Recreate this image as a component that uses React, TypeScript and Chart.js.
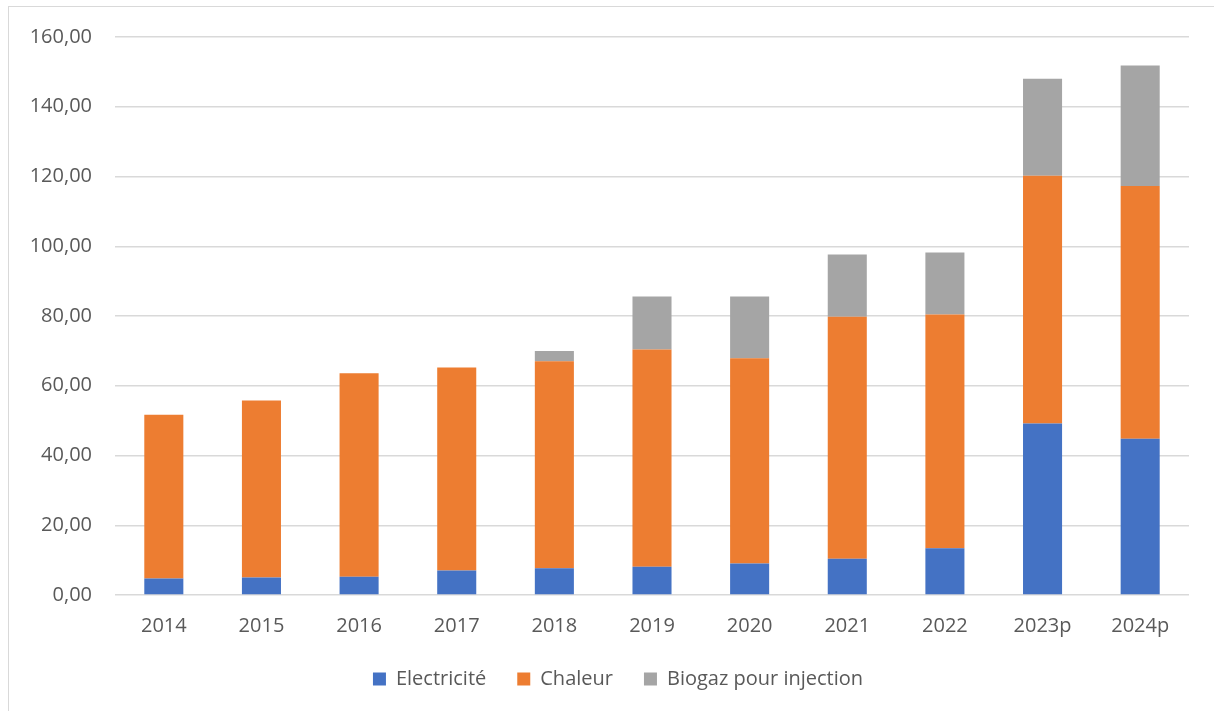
import React, { useEffect, useRef } from "react";
import { Chart, registerables } from "chart.js";

Chart.register(...registerables);

// Years (p = provisional)
const categories = ["2014", "2015", "2016", "2017", "2018", "2019", "2020", "2021", "2022", "2023p", "2024p"];

// Stacked components per year
const electricite = [4.7, 5.0, 5.2, 7.0, 7.7, 8.1, 9.0, 10.4, 13.4, 49.2, 44.8];
const chaleur = [47.0, 50.8, 58.4, 58.2, 59.3, 62.3, 58.9, 69.4, 67.0, 71.0, 72.5];
const biogaz = [0, 0, 0, 0, 3.0, 15.2, 17.7, 17.8, 17.8, 27.8, 34.5];

const seriesNames = ["Electricité", "Chaleur", "Biogaz pour injection"];
const seriesColors = ["#4472C4", "#ED7D31", "#A5A5A5"];

const yMin = 0;
const yMax = 160;
const yStep = 20;

const textColor = "#595959";
const gridColor = "#d9d9d9";
const fontFamily = "'Open Sans', 'Liberation Sans', sans-serif";

// Centre the legend under the whole frame rather than the space left of the right padding
const legendOffset = {
  id: "legendOffset",
  afterLayout(chart: any) {
    if (chart.legend) chart.legend.left += 47;
  },
};

export default function App() {
  const canvasRef = useRef<HTMLCanvasElement | null>(null);

  useEffect(() => {
    const canvas = canvasRef.current;
    if (!canvas) return;
    const chart = new Chart(canvas, {
      type: "bar",
      data: {
        labels: categories,
        datasets: [electricite, chaleur, biogaz].map((values, i) => ({
          label: seriesNames[i],
          data: values,
          backgroundColor: seriesColors[i],
          borderWidth: 0,
          categoryPercentage: 0.8,
          barPercentage: 0.5,
        })),
      },
      options: {
        animation: false,
        responsive: false,
        maintainAspectRatio: false,
        layout: { padding: { left: 0, right: 25, top: 37, bottom: 12 } },
        plugins: {
          tooltip: { enabled: false },
          legend: {
            position: "bottom",
            align: "center",
            labels: {
              boxWidth: 13,
              boxHeight: 13,
              padding: 31,
              color: textColor,
              font: { family: fontFamily, size: 20 },
            },
          },
        },
        scales: {
          x: {
            stacked: true,
            grid: { display: false, drawTicks: false },
            border: { display: false },
            ticks: {
              color: textColor,
              padding: 19,
              maxRotation: 0,
              font: { family: fontFamily, size: 20 },
            },
            afterFit: (scale: any) => {
              scale.height = 43;
            },
          },
          y: {
            stacked: true,
            min: yMin,
            max: yMax,
            grid: { color: gridColor, lineWidth: 1.5, drawTicks: false },
            border: { display: false },
            ticks: {
              stepSize: yStep,
              padding: 23,
              color: textColor,
              font: { family: fontFamily, size: 20 },
              callback: (v: any) => Number(v).toFixed(2).replace(".", ","),
            },
            afterFit: (scale: any) => {
              scale.width = 115;
            },
          },
        },
      },
      plugins: [legendOffset],
    });
    return () => chart.destroy();
  }, []);

  return (
    <div style={{ position: "absolute", left: 0, top: 0, width: 1214, height: 711, overflow: "hidden", background: "#fff" }}>
      <div
        style={{
          position: "absolute",
          left: 8,
          top: 6,
          width: 1206,
          height: 705,
          borderLeft: "1.5px solid #d9d9d9",
          borderTop: "1.5px solid #d9d9d9",
          boxSizing: "border-box",
        }}
      />
      <canvas ref={canvasRef} width={1214} height={711} style={{ position: "absolute", left: 0, top: 0 }} />
    </div>
  );
}
